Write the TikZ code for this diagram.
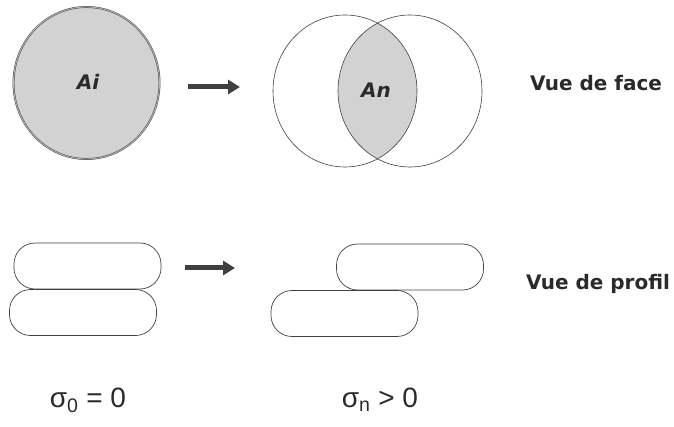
\documentclass[tikz,border=0pt]{standalone}
\usepackage{fontspec}
\setmainfont{Liberation Sans}
\newfontfamily\vuefont{DejaVu Sans}
\usetikzlibrary{shapes.geometric, arrows.meta}
\definecolor{grisA}{HTML}{D2D2D2}
\definecolor{encre}{HTML}{2A2A2A}

\begin{document}
\begin{tikzpicture}[x=1pt, y=-1pt,
    disque/.style={ellipse, draw=black!75, line width=0.6pt, minimum width=144pt, minimum height=152pt, inner sep=0pt},
    grain/.style={rectangle, rounded corners=21pt, draw=black!75, line width=0.7pt, minimum width=147pt, minimum height=46pt},
    aire/.style={font=\vuefont\bfseries\itshape\fontsize{20}{24}\selectfont, text=encre},
    vue/.style={font=\vuefont\bfseries\fontsize{20}{24}\selectfont, text=encre},
    contrainte/.style={font=\fontsize{28}{32}\selectfont, text=encre},
    fleche/.style={-{Triangle[length=12pt, width=14pt]}, line width=5pt, draw=encre!90!white}]
  \useasboundingbox (0,0) rectangle (674,427);

  % vue de face
  \node (Ai) [disque, fill=grisA, draw=black!70, line width=0.5pt, double=black!30, double distance=0.9pt, minimum width=146pt] at (86.5,83) {};
  \node (AiTxt) [aire] at (88,82) {Ai};
  \coordinate (f1a) at (188,87);
  \coordinate (f1b) at (240,87);
  \draw[fleche] (f1a) -- (f1b);
  \begin{scope}
    \clip (345,91) ellipse [x radius=72pt, y radius=76pt];
    \fill[grisA] (410,91) ellipse [x radius=72pt, y radius=76pt];
  \end{scope}
  \node (Cg) [disque] at (345,91) {};
  \node (Cd) [disque] at (410,91) {};
  \node (An) [aire] at (376,90) {An};
  \node (face) [vue] at (596,83) {Vue de face};

  % vue de profil
  \node (G1) [grain] at (87.5,266) {};
  \node (G2) [grain] at (83,312.5) {};
  \coordinate (f2a) at (185,268);
  \coordinate (f2b) at (235,268);
  \draw[fleche] (f2a) -- (f2b);
  \node (G3) [grain] at (410,267) {};
  \node (G4) [grain] at (344.5,313.5) {};
  \node (profil) [vue] at (598,284) {Vue de profil};

  \node (s0) [contrainte] at (88,400) {σ\textsubscript{0} = 0};
  \node (sn) [contrainte] at (380,400) {σ\textsubscript{n} > 0};
\end{tikzpicture}
\end{document}
